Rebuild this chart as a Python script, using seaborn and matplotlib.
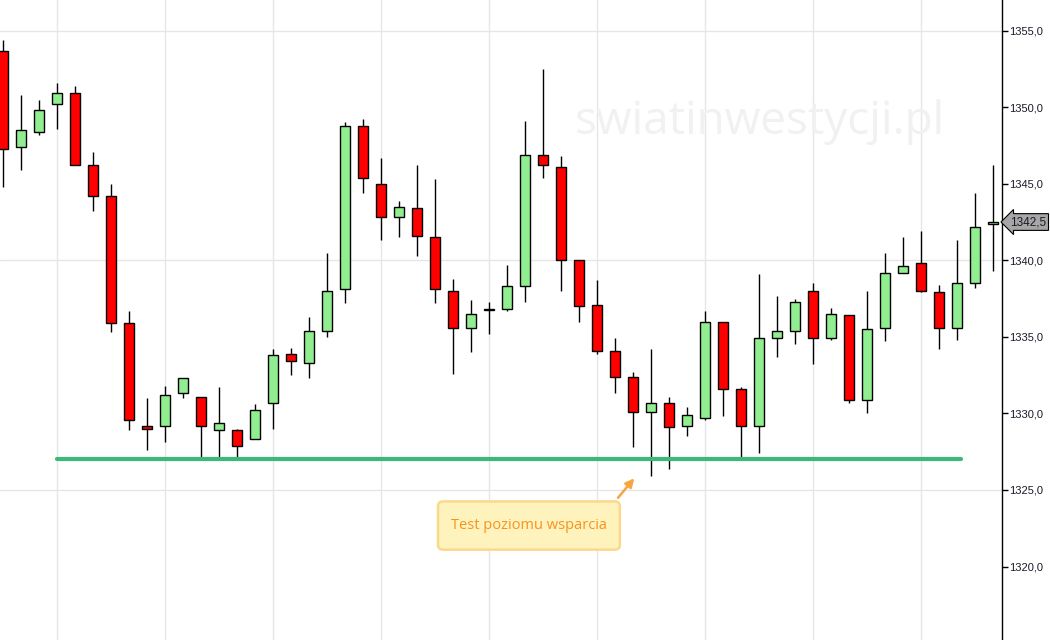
import matplotlib
matplotlib.use("Agg")
import matplotlib.pyplot as plt
import matplotlib.transforms as mtransforms
from matplotlib.patches import FancyBboxPatch
import seaborn as sns
import pandas as pd
import numpy as np

# OHLC values (one entry per candle)
opens = [1353.7, 1347.4, 1348.4, 1350.2, 1350.9, 1346.2, 1344.2, 1335.9, 1329.2, 1329.2,
         1331.3, 1331.1, 1328.9, 1328.9, 1328.3, 1330.7, 1333.9, 1333.3, 1335.4, 1338.1,
         1348.8, 1345.0, 1342.8, 1343.4, 1341.5, 1338.0, 1335.6, 1336.75, 1336.8, 1338.3,
         1346.9, 1346.1, 1340.0, 1337.1, 1334.1, 1332.4, 1330.1, 1330.7, 1329.2, 1329.7,
         1336.0, 1331.6, 1329.2, 1334.9, 1335.4, 1338.0, 1334.9, 1336.4, 1330.9, 1335.6,
         1339.2, 1339.8, 1337.9, 1335.6, 1338.5, 1342.35]
highs = [1354.4, 1350.8, 1350.5, 1351.6, 1351.4, 1347.1, 1345.0, 1336.7, 1331.0, 1331.8,
         1332.3, 1331.1, 1331.7, 1329.0, 1330.6, 1334.2, 1334.3, 1336.3, 1340.5, 1349.0,
         1349.2, 1346.7, 1343.9, 1346.2, 1345.3, 1338.8, 1337.4, 1337.3, 1339.7, 1349.1,
         1352.5, 1346.8, 1340.0, 1338.7, 1334.9, 1332.7, 1334.2, 1331.1, 1330.4, 1336.7,
         1336.0, 1331.7, 1339.1, 1337.7, 1337.5, 1338.5, 1336.9, 1336.4, 1338.0, 1340.5,
         1341.5, 1341.9, 1338.4, 1341.3, 1344.4, 1346.2]
lows = [1344.8, 1345.9, 1348.2, 1348.6, 1346.2, 1343.2, 1335.3, 1328.9, 1327.6, 1328.1,
        1331.0, 1327.1, 1327.1, 1327.1, 1328.3, 1329.0, 1332.5, 1332.3, 1335.0, 1337.2,
        1344.4, 1341.3, 1341.5, 1340.3, 1337.2, 1332.6, 1334.0, 1335.2, 1336.7, 1337.3,
        1345.4, 1338.0, 1336.0, 1333.9, 1331.3, 1327.8, 1325.9, 1326.4, 1328.5, 1329.6,
        1329.8, 1327.1, 1327.4, 1333.7, 1334.5, 1333.2, 1334.8, 1330.7, 1330.0, 1334.7,
        1339.2, 1337.9, 1334.2, 1334.8, 1338.2, 1339.3]
closes = [1347.3, 1348.5, 1349.8, 1350.9, 1346.2, 1344.2, 1335.9, 1329.6, 1329.0, 1331.2,
          1332.3, 1329.2, 1329.4, 1327.9, 1330.2, 1333.8, 1333.4, 1335.4, 1338.0, 1348.8,
          1345.4, 1342.8, 1343.5, 1341.6, 1338.1, 1335.6, 1336.5, 1336.8, 1338.3, 1346.9,
          1346.2, 1340.0, 1337.0, 1334.1, 1332.4, 1330.1, 1330.7, 1329.1, 1329.9, 1336.0,
          1331.6, 1329.2, 1334.9, 1335.4, 1337.3, 1334.9, 1336.5, 1330.9, 1335.5, 1339.2,
          1339.6, 1338.0, 1335.6, 1338.5, 1342.2, 1342.5]

# support level drawn on the chart
support_level = 1327.0
support_from = 3
support_to = 53.2
last_price = 1342.5

y_ticks = [1320, 1325, 1330, 1335, 1340, 1345, 1350, 1355]

df = pd.DataFrame({"open": opens, "high": highs, "low": lows, "close": closes})
df["idx"] = np.arange(len(df))
df["up"] = df["close"] >= df["open"]
df["body_bottom"] = df[["open", "close"]].min(axis=1)
df["body_height"] = (df["close"] - df["open"]).abs().clip(lower=0.06)

sns.set_style("white")
plt.rcParams["font.family"] = ["Liberation Sans", "DejaVu Sans"]

fig = plt.figure(figsize=(10.5, 6.4), dpi=100)
ax = fig.add_axes([0, 0, 1002 / 1050, 1])

# light grid
for v in [1325, 1340, 1355]:
    ax.axhline(v, color="#e6e6e6", lw=1.0, zorder=0)
for i in range(3, len(df), 6):
    ax.axvline(i, color="#e6e6e6", lw=1.0, zorder=0)

# watermark
ax.text(0.758, 0.81, "swiatinwestycji.pl", transform=ax.transAxes,
        fontsize=33, color="#f1f1f1", ha="center", va="center",
        family="Open Sans", zorder=0.5)

# wicks and bodies
ax.vlines(df["idx"], df["low"], df["high"], color="black", lw=1.0, zorder=2)
colors = np.where(df["up"], "#90ee90", "#ff0000")
ax.bar(df["idx"], df["body_height"], bottom=df["body_bottom"], width=0.56,
       color=colors, edgecolor="black", linewidth=1.0, zorder=3)

# support line
sup = pd.DataFrame({"x": [support_from, support_to], "y": [support_level, support_level]})
sns.lineplot(data=sup, x="x", y="y", ax=ax, color="#3cb878", lw=3.0, zorder=4)

# annotation box + arrow
box = FancyBboxPatch((24.15, 1321.1), 10.1, 3.15,
                     boxstyle="round,pad=0,rounding_size=0.3",
                     fc="#fff3bd", ec="#fcd98a", lw=1.8, zorder=5)
ax.add_patch(box)
ax.text(29.2, 1322.65, "Test poziomu wsparcia", fontsize=10.5, color="#f7931e",
        family="Open Sans", ha="center", va="center", zorder=6)
ax.annotate("", xy=(35.15, 1325.9), xytext=(34.05, 1324.35),
            arrowprops=dict(arrowstyle="-|>,head_length=0.5,head_width=0.25",
                            color="#f7a540", lw=1.8), zorder=6)

ax.set_xlim(-0.185, 55.48)
ax.set_ylim(1315.2, 1357.0)
ax.set_xlabel("")
ax.set_ylabel("")

# right price axis
for s in ["left", "top", "bottom"]:
    ax.spines[s].set_visible(False)
ax.spines["right"].set_color("black")
ax.spines["right"].set_linewidth(1.0)
ax.set_xticks([])
ax.yaxis.tick_right()
ax.set_yticks(y_ticks)
ax.set_yticklabels([f"{v:.1f}".replace(".", ",") for v in y_ticks])
ax.tick_params(axis="y", direction="out", length=4, width=1, color="black",
               labelsize=8, labelcolor="#1a1a2a", pad=1)

# last price tag
trans = mtransforms.blended_transform_factory(ax.transAxes, ax.transData)
ax.text(1.008, last_price, "1342,5", transform=trans, fontsize=8.5, color="#1a1a2a",
        ha="left", va="center", zorder=7, clip_on=False,
        bbox=dict(boxstyle="larrow,pad=0.2", fc="#a6a6a6", ec="black", lw=0.8))

fig.savefig("out.png", dpi=100)
